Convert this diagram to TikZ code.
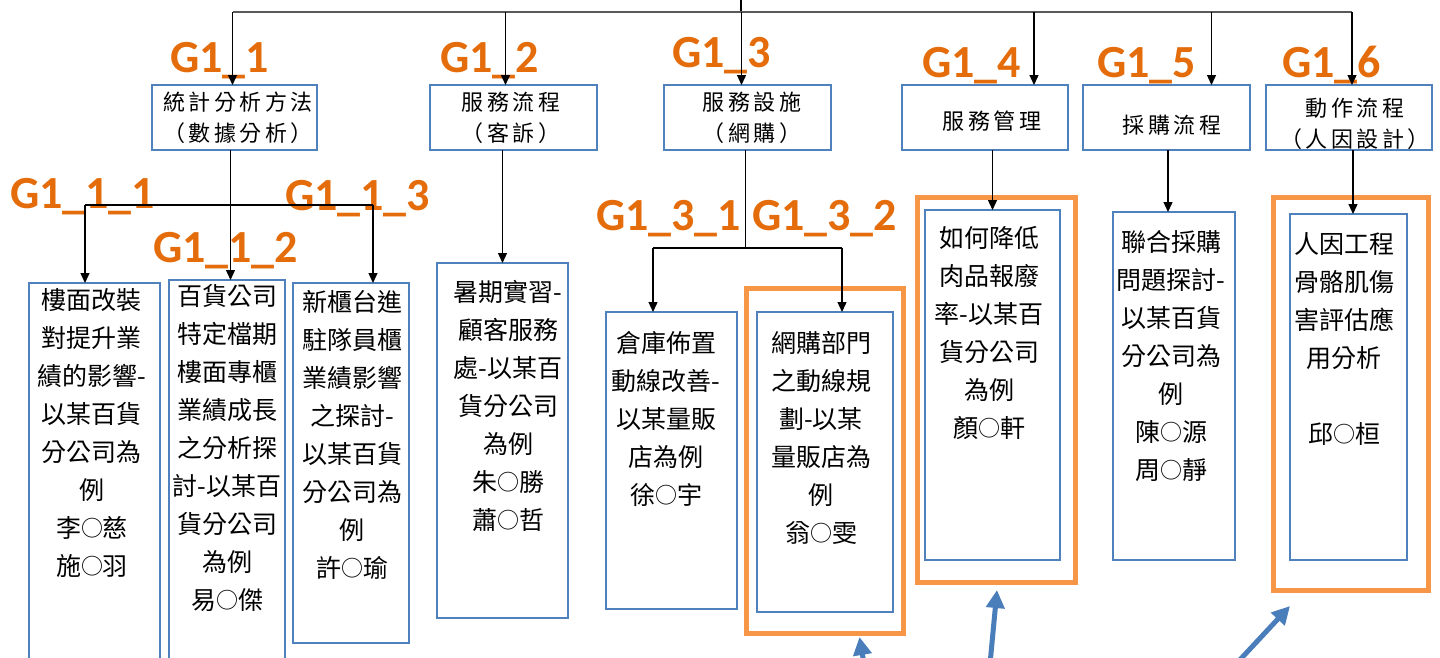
\documentclass[tikz,border=0pt]{standalone}
\usepackage{fontspec}
\setmainfont{Carlito}
\newfontfamily\cjk{Noto Sans CJK TC}
\newfontfamily\cjkh[LetterSpace=16]{Noto Sans CJK TC}
\usetikzlibrary{arrows.meta,calc}
\definecolor{boxblue}{HTML}{4F81BD}
\definecolor{hlorange}{HTML}{F79646}
\definecolor{lblorange}{HTML}{E46C0A}
\definecolor{arrblue}{HTML}{4A7EBB}
\newcommand\smallcirc{\raisebox{1pt}{\fontsize{22}{38}\selectfont ○}}
\begin{document}
\begin{tikzpicture}[x=1pt,y=-1pt,
  every node/.style={inner sep=0pt, outer sep=0pt},
  box/.style={draw=boxblue, line width=1.5pt, anchor=north west},
  hl/.style={draw=hlorange, line width=5pt, anchor=north west},
  head/.style={font=\cjkh\fontsize{22}{31}\selectfont, align=center},
  body/.style={font=\cjk\fontsize{25}{38}\selectfont, align=center, anchor=north},
  lbl/.style={font=\bfseries\fontsize{46}{46}\selectfont, text=lblorange, anchor=base west},
  conn/.style={draw=black, line width=1.3pt},
  busline/.style={draw=black!65, line width=2pt},
  arr/.style={conn, -{Triangle[length=10pt,width=9pt]}},
  barr/.style={draw=arrblue, line width=5pt, -{Triangle[length=18pt,width=18pt]}}
]
\useasboundingbox (0,0) rectangle (1440,657);
\clip (0,0) rectangle (1440,657);
\fill[white] (0,0) rectangle (1440,657);

% labels
\node[lbl] (l11) at (170,72) {G1\_1};
\node[lbl] (l12) at (440,72) {G1\_2};
\node[lbl] (l13) at (672,67) {G1\_3};
\node[lbl] (l14) at (922,77) {G1\_4};
\node[lbl] (l15) at (1097,77) {G1\_5};
\node[lbl] (l16) at (1282,77) {G1\_6};
\node[lbl] (l111) at (10,208) {G1\_1\_1};
\node[lbl] (l112) at (153,262) {G1\_1\_2};
\node[lbl] (l113) at (285,210) {G1\_1\_3};
\node[lbl] (l131) at (596,230) {G1\_3\_1};
\node[lbl] (l132) at (752,230) {G1\_3\_2};

% level 1 boxes
\node[box, minimum width=165pt, minimum height=65pt] (g11) at (152,85) {};
\node[box, minimum width=167pt, minimum height=65pt] (g12) at (430,85) {};
\node[box, minimum width=167pt, minimum height=65pt] (g13) at (664,85) {};
\node[box, minimum width=166pt, minimum height=65pt] (g14) at (902,85) {};
\node[box, minimum width=167pt, minimum height=65pt] (g15) at (1083,85) {};
\node[box, minimum width=166pt, minimum height=65pt] (g16) at (1266,85) {};
\node[head] (t11) at (238,118) {統計分析方法\\（數據分析）};
\node[head] (t12) at (511,118) {服務流程\\（客訴）};
\node[head] (t13) at (752,118) {服務設施\\（網購）};
\node[head] (t14) at (992,121) {服務管理};
\node[head] (t15) at (1172,125) {採購流程};
\node[head] (t16) at (1355,124) {動作流程\\（人因設計）};

% level 2 boxes
\node[box, minimum width=131pt, minimum height=400pt] (b111) at (29,283) {};
\node[box, minimum width=116pt, minimum height=400pt] (b112) at (169,280) {};
\node[box, minimum width=116pt, minimum height=360pt] (b113) at (293,283) {};
\node[box, minimum width=131pt, minimum height=355pt] (b12) at (437,263) {};
\node[box, minimum width=131pt, minimum height=297pt] (b131) at (606,312) {};
\node[box, minimum width=136pt, minimum height=300pt] (b132) at (757,312) {};
\node[box, minimum width=135pt, minimum height=350pt] (b14) at (925,210) {};
\node[box, minimum width=122pt, minimum height=348pt] (b15) at (1113,212) {};
\node[box, minimum width=117pt, minimum height=346pt] (b16) at (1290,214) {};

\node[hl, minimum width=157pt, minimum height=345pt] (h132) at (746,288) {};
\node[hl, minimum width=158pt, minimum height=385pt] (h14) at (917,197) {};
\node[hl, minimum width=155pt, minimum height=393pt] (h16) at (1273,197) {};

\node[body] (x111) at (92,288) {樓面改裝\\對提升業\\績的影響-\\以某百貨\\分公司為\\例\\李\smallcirc 慈\\施\smallcirc 羽};
\node[body] (x112) at (227,284) {百貨公司\\特定檔期\\樓面專櫃\\業績成長\\之分析探\\討-以某百\\貨分公司\\為例\\易\smallcirc 傑};
\node[body] (x113) at (352,290) {新櫃台進\\駐隊員櫃\\業績影響\\之探討-\\以某百貨\\分公司為\\例\\許\smallcirc 瑜};
\node[body] (x12) at (508,280) {暑期實習-\\顧客服務\\處-以某百\\貨分公司\\為例\\朱\smallcirc 勝\\蕭\smallcirc 哲};
\node[body] (x131) at (666,331) {倉庫佈置\\動線改善-\\以某量販\\店為例\\徐\smallcirc 宇};
\node[body] (x132) at (821,331) {網購部門\\之動線規\\劃-以某\\量販店為\\例\\翁\smallcirc 雯};
\node[body] (x14) at (989,226) {如何降低\\肉品報廢\\率-以某百\\貨分公司\\為例\\顏\smallcirc 軒};
\node[body] (x15) at (1171,230) {聯合採購\\問題探討-\\以某百貨\\分公司為\\例\\陳\smallcirc 源\\周\smallcirc 靜};
\node[body] (x16) at (1344,233) {人因工程\\骨骼肌傷\\害評估應\\用分析\\\strut\\邱\smallcirc 桓};

% top bus
\coordinate (top) at (741,0);
\coordinate (bus) at (741,12);
\path ($(g11.north)+(-2,0)$) coordinate (a11)
      ($(g12.north)+(-8,0)$) coordinate (a12)
      ($(g13.north)+(-6,0)$) coordinate (a13)
      ($(g14.north)+(49,0)$) coordinate (a14)
      ($(g15.north)+(45,0)$) coordinate (a15)
      ($(g16.north)+(3,0)$) coordinate (a16);
\draw[conn] (top) -- (bus);
\draw[busline] (a11 |- bus) -- (a16 |- bus);
\foreach \i in {11,12,13,14,15,16} \draw[arr] (a\i |- bus) -- (a\i);

% G1_1 children
\coordinate (s11) at ($(g11.south)+(-4,0)$);
\coordinate (h11) at ($(s11)+(0,55)$);
\coordinate (c111) at ($(b111.north)+(-9.5,0)$);
\coordinate (c113) at ($(b113.north)+(22,0)$);
\draw[arr] (s11) -- (s11 |- b112.north);
\draw[conn] (c111 |- h11) -- (c113 |- h11);
\draw[arr] (c111 |- h11) -- (c111);
\draw[arr] (c113 |- h11) -- (c113);

% G1_2 child
\draw[arr] (b12.north |- g12.south) -- (b12.north);

% G1_3 children
\coordinate (s13) at ($(g13.south)+(-2,0)$);
\coordinate (h13) at ($(s13)+(0,98)$);
\coordinate (c131) at ($(b131.north)+(-18.5,0)$);
\coordinate (c132) at ($(b132.north)+(17,0)$);
\draw[conn] (s13) -- (h13);
\draw[conn] (c131 |- h13) -- (c132 |- h13);
\draw[arr] (c131 |- h13) -- (c131);
\draw[arr] (c132 |- h13) -- (c132);

% G1_4..6 children
\draw[arr] (b14.north |- g14.south) -- (b14.north);
\coordinate (c15) at ($(b15.north)+(-6,0)$);
\draw[arr] (c15 |- g15.south) -- (c15);
\coordinate (c16) at ($(b16.north)+(4.5,0)$);
\draw[arr] (c16 |- g16.south) -- (c16);

% blue pointer arrows
\coordinate (f1) at (864,664);
\coordinate (f2) at (990,664);
\coordinate (f3) at (1236,664);
\draw[barr] (f1) -- ($(h132.south)+(35,4)$);
\draw[barr] (f2) -- ($(h14.south)+(1,8)$);
\draw[barr] (f3) -- ($(h16.south west)+(17,16)$);
\end{tikzpicture}
\end{document}
